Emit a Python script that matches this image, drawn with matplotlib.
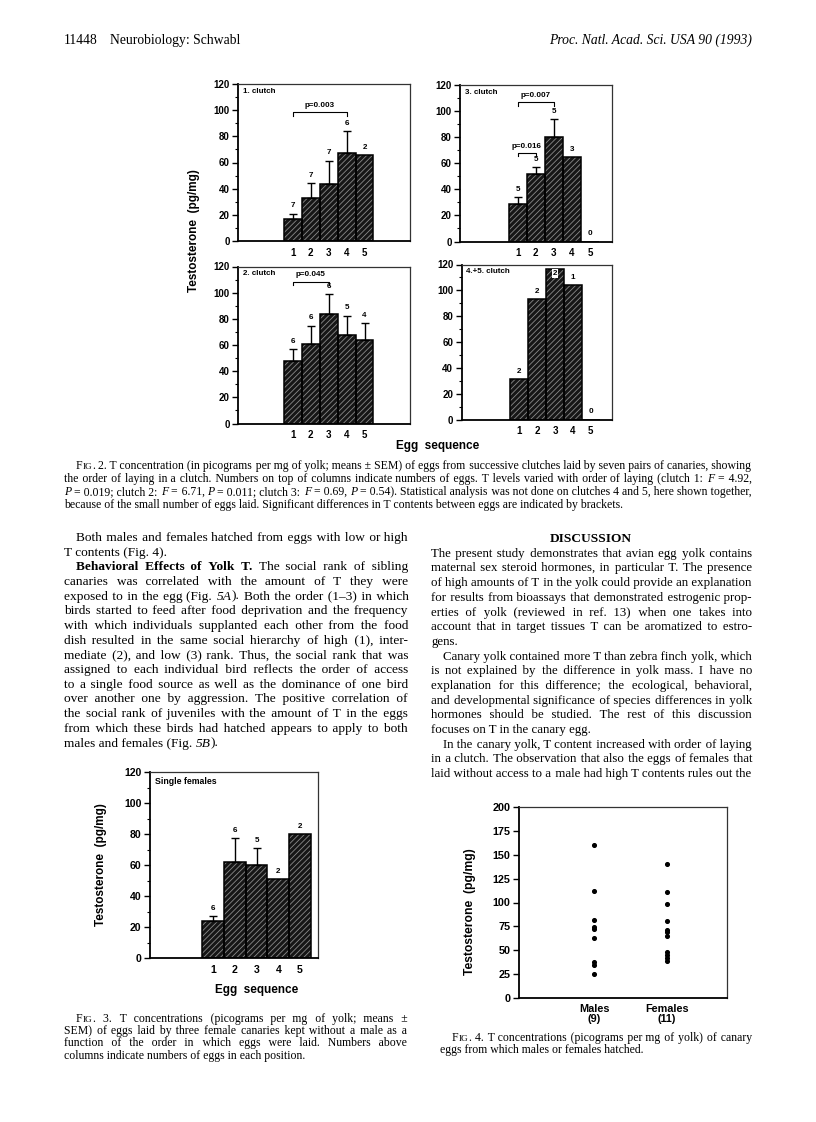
import re
import numpy as np
import matplotlib
matplotlib.use("Agg")
import matplotlib.pyplot as plt

plt.rcParams['hatch.linewidth'] = 0.6

# ---------------- data ----------------
eggs = [1, 2, 3, 4, 5]
c1_means = [16.6, 33.2, 43.4, 67.1, 65.4]
c1_sem = [4.3, 11.0, 18.1, 16.9, np.nan]
c1_n = [7, 7, 7, 6, 2]
c2_means = [48.0, 61.0, 84.0, 67.4, 64.1]
c2_sem = [8.9, 13.8, 14.8, 15.1, 12.5]
c2_n = [6, 6, 6, 5, 4]
c3_means = [29.1, 51.8, 80.4, 64.6, 0.0]
c3_sem = [5.1, 5.1, 13.6, np.nan, np.nan]
c3_n = [5, 5, 5, 3, 0]
c45_means = [31.5, 93.4, 116.9, 104.3, 0.0]
c45_sem = [np.nan, np.nan, np.nan, np.nan, np.nan]
c45_n = [2, 2, 2, 1, 0]
sf_means = [24.0, 62.0, 60.0, 50.8, 80.0]
sf_sem = [2.8, 15.6, 10.9, np.nan, np.nan]
sf_n = [6, 6, 5, 2, 2]
males_T = [160.7, 112.3, 81.4, 74.4, 72.3, 62.6, 37.2, 34.8, 25.0]
females_T = [140.5, 111.3, 98.4, 80.7, 71.5, 69.2, 65.0, 48.0, 45.2, 42.4, 39.0]
fig4_labels = ["Males\n(9)", "Females\n(11)"]

# ---------------- page text ----------------
fig2_caption = [
    "F~IG~. 2.    T concentration (in picograms per mg of yolk; means ± SEM) of eggs from successive clutches laid by seven pairs of canaries, showing",
    "the order of laying in a clutch. Numbers on top of columns indicate numbers of eggs. T levels varied with order of laying (clutch 1: *F* = 4.92,",
    "*P* = 0.019; clutch 2: *F* = 6.71, *P* = 0.011; clutch 3: *F* = 0.69, *P* = 0.54). Statistical analysis was not done on clutches 4 and 5, here shown together,",
    "because of the small number of eggs laid. Significant differences in T contents between eggs are indicated by brackets.",
]
left_col = [
    ("Both males and females hatched from eggs with low or high", True, True),
    ("T contents (Fig. 4).", False, False),
    ("**Behavioral Effects of Yolk T.** The social rank of sibling", True, True),
    ("canaries was correlated with the amount of T they were", False, True),
    ("exposed to in the egg (Fig. *5A*). Both the order (1–3) in which", False, True),
    ("birds started to feed after food deprivation and the frequency", False, True),
    ("with which individuals supplanted each other from the food", False, True),
    ("dish resulted in the same social hierarchy of high (1), inter-", False, True),
    ("mediate (2), and low (3) rank. Thus, the social rank that was", False, True),
    ("assigned to each individual bird reflects the order of access", False, True),
    ("to a single food source as well as the dominance of one bird", False, True),
    ("over another one by aggression. The positive correlation of", False, True),
    ("the social rank of juveniles with the amount of T in the eggs", False, True),
    ("from which these birds had hatched appears to apply to both", False, True),
    ("males and females (Fig. *5B*).", False, False),
]
right_col = [
    ("The present study demonstrates that avian egg yolk contains", False, True),
    ("maternal sex steroid hormones, in particular T. The presence", False, True),
    ("of high amounts of T in the yolk could provide an explanation", False, True),
    ("for results from bioassays that demonstrated estrogenic prop-", False, True),
    ("erties of yolk (reviewed in ref. 13) when one takes into", False, True),
    ("account that in target tissues T can be aromatized to estro-", False, True),
    ("gens.", False, False),
    ("Canary yolk contained more T than zebra finch yolk, which", True, True),
    ("is not explained by the difference in yolk mass. I have no", False, True),
    ("explanation for this difference; the ecological, behavioral,", False, True),
    ("and developmental significance of species differences in yolk", False, True),
    ("hormones should be studied. The rest of this discussion", False, True),
    ("focuses on T in the canary egg.", False, False),
    ("In the canary yolk, T content increased with order of laying", True, True),
    ("in a clutch. The observation that also the eggs of females that", False, True),
    ("laid without access to a male had high T contents rules out the", False, True),
]
fig3_caption = [
    ("F~IG~. 3.    T concentrations (picograms per mg of yolk; means ±", True),
    ("SEM) of eggs laid by three female canaries kept without a male as a", True),
    ("function of the order in which eggs were laid. Numbers above", True),
    ("columns indicate numbers of eggs in each position.", False),
]
fig4_caption = [
    ("F~IG~. 4.    T concentrations (picograms per mg of yolk) of canary", True),
    ("eggs from which males or females hatched.", False),
]

W, H = 816, 1122
fig = plt.figure(figsize=(W / 100, H / 100), dpi=100)
fig.patch.set_facecolor('white')
renderer = fig.canvas.get_renderer()

SERIF = ['Liberation Serif', 'DejaVu Serif']
SANS = 'Liberation Sans'
HAIR = '\u200a'


def fx(x):
    return x / W


def fy(y):
    return 1 - y / H


def style_kw(style, size):
    if style == 'b':
        return dict(fontweight='bold', fontstyle='normal', fontsize=size)
    if style == 'i':
        return dict(fontweight='normal', fontstyle='italic', fontsize=size)
    if style == 's':
        return dict(fontweight='normal', fontstyle='normal', fontsize=size * 0.78)
    return dict(fontweight='normal', fontstyle='normal', fontsize=size)


_cache = {}


def measure(s, style, size):
    key = (s, style, size)
    if key not in _cache:
        t = fig.text(0, 0, s, family=SERIF, **style_kw(style, size))
        _cache[key] = t.get_window_extent(renderer=renderer).width
        t.remove()
    return _cache[key]


def adv(s, style, size):
    """advance width of s (including bearings)"""
    return measure('x' + s + 'x', style, size) - measure('xx', style, size)


def parse(line):
    parts = re.split(r'(\*\*.+?\*\*|\*.+?\*|~.+?~)', line)
    segs = []
    for p in parts:
        if not p:
            continue
        if p.startswith('**'):
            segs.append((p[2:-2], 'b'))
        elif p.startswith('*'):
            segs.append((p[1:-1], 'i'))
        elif p.startswith('~'):
            segs.append((p[1:-1].upper(), 's'))
        else:
            segs.append((p, 'n'))
    words = [[]]
    for s, st in segs:
        pieces = s.split(' ')
        for i, pc in enumerate(pieces):
            if i > 0:
                words.append([])
            if pc:
                words[-1].append((pc, st))
    return [w for w in words if w]


def put(x, y, s, st, size):
    fig.text(fx(x), fy(y), s, family=SERIF, va='baseline', ha='left', **style_kw(st, size))


def draw_line(x0, x1, y, line, size, justify):
    words = parse(line)
    n = len(words)
    wadv = [sum(adv(s, st, size) for s, st in w) for w in words]
    sp = adv(' ', 'n', size)
    hair = adv(HAIR, 'n', size)
    natural = sum(wadv) + sp * (n - 1)
    e = 0.0
    if justify and n > 1:
        e = max((x1 - x0 - natural) / (n - 1), 0.0)
    k = e / hair if hair > 0 else 0
    counts = [max(int(round((j + 1) * k)) - int(round(j * k)), 0) for j in range(max(n - 1, 0))]
    wx = [x0]
    for j in range(n - 1):
        wx.append(wx[-1] + wadv[j] + sp + e)
    i = 0
    while i < n:
        if len(words[i]) == 1:
            st = words[i][0][1]
            j = i
            while j + 1 < n and len(words[j + 1]) == 1 and words[j + 1][0][1] == st:
                j += 1
            s = words[i][0][0]
            for m in range(i, j):
                s += ' ' + HAIR * counts[m] + words[m + 1][0][0]
            put(wx[i], y, s, st, size)
            i = j + 1
        else:
            x = wx[i]
            for s, st in words[i]:
                put(x, y, s, st, size)
                x += adv(s, st, size)
            i += 1


# header
fig.text(fx(64), fy(44), "11448", family=SERIF, fontsize=9.8, va='baseline')
fig.text(fx(110), fy(44), "Neurobiology: Schwabl", family=SERIF, fontsize=9.8, va='baseline')
fig.text(fx(752), fy(44), "Proc. Natl. Acad. Sci. USA 90 (1993)", family=SERIF,
         fontstyle='italic', fontsize=9.8, va='baseline', ha='right')

CAP = 8.5
for i, ln in enumerate(fig2_caption):
    draw_line(64 if i else 76, 752, 469 + 12.9 * i, ln, CAP, i < 3)

BODY_L = 9.6
BODY_R = 9.25
for i, (ln, indent, just) in enumerate(left_col):
    draw_line(76 if indent else 64, 408, 541 + 14.68 * i, ln, BODY_L, just)

fig.text(fx(591), fy(541.5), "DISCUSSION", family=SERIF, fontweight='bold',
         fontsize=BODY_L, ha='center', va='baseline')
for i, (ln, indent, just) in enumerate(right_col):
    draw_line(443 if indent else 431, 752, 556.8 + 14.68 * i, ln, BODY_R, just)

for i, (ln, just) in enumerate(fig3_caption):
    draw_line(76 if i == 0 else 64, 407, 1022 + 12.2 * i, ln, CAP, just)
for i, (ln, just) in enumerate(fig4_caption):
    draw_line(452 if i == 0 else 440, 752, 1041 + 12.2 * i, ln, CAP, just)


# ---------------- charts ----------------
def add_ax(left, right, top, bottom):
    return fig.add_axes([fx(left), fy(bottom), (right - left) / W, (bottom - top) / H])


def style_axes(ax, ymax, ystep, yminor, lsize=7):
    for s in ['left', 'bottom']:
        ax.spines[s].set_linewidth(1.3)
    for s in ['top', 'right']:
        ax.spines[s].set_linewidth(0.9)
        ax.spines[s].set_color('#333333')
    ax.set_ylim(0, ymax)
    ax.set_yticks(np.arange(0, ymax + 1, ystep))
    if yminor:
        ax.set_yticks(np.arange(0, ymax + 1, yminor), minor=True)
    ax.tick_params(axis='y', which='major', direction='out', length=4, width=1, pad=2,
                   labelsize=lsize)
    ax.tick_params(axis='y', which='minor', direction='out', length=2, width=0.8)
    ax.tick_params(axis='x', length=0, pad=5, labelsize=lsize)
    for lab in ax.get_yticklabels() + ax.get_xticklabels():
        lab.set_fontweight('bold')
        lab.set_family(SANS)


def bar_panel(ax, means, sems, ns, title, brackets, xlim, white_label=None, nsize=5.8,
              tsize=5.8):
    x = np.array(eggs)
    ax.bar(x, means, width=1.0, color='#161616', edgecolor='#8a8a8a', linewidth=0,
           hatch='//////')
    ax.bar(x, means, width=1.0, fill=False, edgecolor='black', linewidth=1.1)
    means = np.array(means, dtype=float)
    sems = np.array(sems, dtype=float)
    ok = ~np.isnan(sems)
    if ok.any():
        ax.errorbar(x[ok], means[ok], yerr=[np.zeros(ok.sum()), sems[ok]], fmt='none',
                    ecolor='black', elinewidth=1.0, capsize=3.2, capthick=1.0)
    tops = np.where(ok, means + np.nan_to_num(sems), means)
    for xi, t, n in zip(x, tops, ns):
        if white_label is not None and xi == white_label:
            ax.text(xi, t - 4, str(n), ha='center', va='center', fontsize=nsize,
                    fontweight='bold', family=SANS,
                    bbox=dict(boxstyle='square,pad=0.15', fc='white', ec='none'))
            continue
        ax.annotate(str(n), (xi, t), xytext=(0, 3), textcoords='offset points',
                    ha='center', va='bottom', fontsize=nsize, fontweight='bold', family=SANS)
    for (a, b, y, lab) in brackets:
        ax.plot([a, a, b, b], [y - 2.5, y, y, y - 2.5], color='black', lw=0.8)
        ax.text((a + b) / 2, y + 2.5, lab, ha='center', va='bottom', fontsize=nsize,
                fontweight='bold', family=SANS)
    ax.text(0.03, 0.975, title, transform=ax.transAxes, ha='left', va='top',
            fontsize=tsize, fontweight='bold', family=SANS)
    ax.set_xlim(*xlim)
    ax.set_xticks(x)


ax1 = add_ax(238, 410, 84, 241)
bar_panel(ax1, c1_means, c1_sem, c1_n, "1. clutch", [(1, 4, 98.3, "p=0.003")], (-2.07, 7.54))
style_axes(ax1, 120, 20, 10)

ax2 = add_ax(238, 410, 266.5, 423.5)
bar_panel(ax2, c2_means, c2_sem, c2_n, "2. clutch", [(1, 3, 108.5, "p=0.045")], (-2.07, 7.54))
style_axes(ax2, 120, 20, 10)

ax3 = add_ax(460, 612, 85, 241.5)
bar_panel(ax3, c3_means, c3_sem, c3_n, "3. clutch",
          [(1, 3, 106.7, "p=0.007"), (1, 2, 67.7, "p=0.016")], (-2.18, 6.2))
style_axes(ax3, 120, 20, 10)

ax4 = add_ax(461.5, 612, 264.5, 419.5)
bar_panel(ax4, c45_means, c45_sem, c45_n, "4.+5. clutch", [], (-2.25, 6.2), white_label=3)
style_axes(ax4, 120, 20, 10)

fig.text(fx(194), fy(231), "Testosterone  (pg/mg)", rotation=90, ha='center', va='center',
         fontsize=8.5, fontweight='bold', family=SANS)
fig.text(fx(438), fy(446), "Egg  sequence", ha='center', va='center',
         fontsize=8.5, fontweight='bold', family=SANS)

# Fig 3
ax5 = add_ax(150, 318, 772, 958)
bar_panel(ax5, sf_means, sf_sem, sf_n, "Single females", [], (-1.92, 5.83), tsize=6.3)
style_axes(ax5, 120, 20, 10, lsize=7.6)
fig.text(fx(101), fy(865), "Testosterone  (pg/mg)", rotation=90, ha='center', va='center',
         fontsize=8.5, fontweight='bold', family=SANS)
fig.text(fx(257), fy(990), "Egg  sequence", ha='center', va='center',
         fontsize=8.5, fontweight='bold', family=SANS)

# Fig 4
ax6 = add_ax(519, 727, 807, 998)
ax6.scatter(np.full(len(males_T), 1.0), males_T, s=7, color='black', zorder=3)
ax6.scatter(np.full(len(females_T), 2.0), females_T, s=7, color='black', zorder=3)
ax6.set_xlim(-0.03, 2.82)
ax6.set_xticks([1, 2])
ax6.set_xticklabels(fig4_labels, linespacing=1.1)
style_axes(ax6, 200, 25, None, lsize=7.8)
ax6.tick_params(axis='x', pad=4)
fig.text(fx(470), fy(912), "Testosterone  (pg/mg)", rotation=90, ha='center', va='center',
         fontsize=8.7, fontweight='bold', family=SANS)

fig.savefig("out.png", dpi=100, facecolor='white')
